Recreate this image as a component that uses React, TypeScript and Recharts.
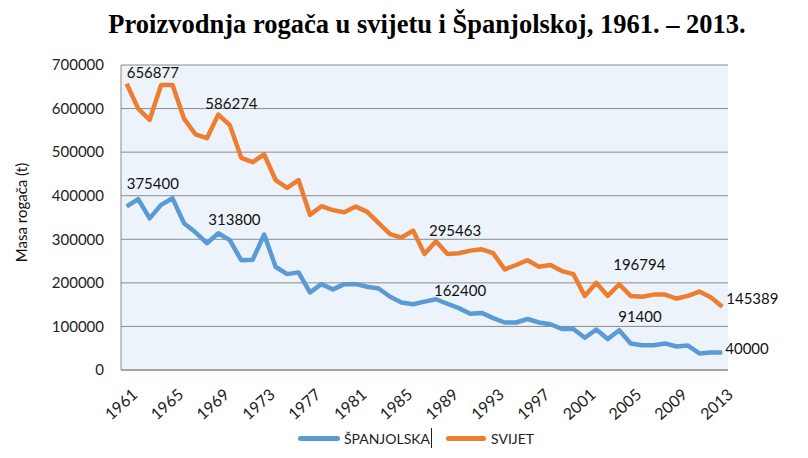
import React from 'react';
import { LineChart, Line, XAxis, YAxis, CartesianGrid, Label } from 'recharts';

const years = [
  1961, 1962, 1963, 1964, 1965, 1966, 1967, 1968, 1969, 1970,
  1971, 1972, 1973, 1974, 1975, 1976, 1977, 1978, 1979, 1980,
  1981, 1982, 1983, 1984, 1985, 1986, 1987, 1988, 1989, 1990,
  1991, 1992, 1993, 1994, 1995, 1996, 1997, 1998, 1999, 2000,
  2001, 2002, 2003, 2004, 2005, 2006, 2007, 2008, 2009, 2010,
  2011, 2012, 2013,
];

const spainValues = [
  375400, 392000, 348000, 379000, 394000, 337000, 316000, 291000, 313800, 298000,
  252000, 253000, 311000, 237000, 220000, 224000, 178000, 197000, 185000, 197000,
  197000, 191000, 187000, 168000, 155000, 151000, 157000, 162400, 152000, 142000,
  129000, 131000, 119000, 109000, 109000, 117000, 109000, 105000, 94000, 94000,
  74000, 93000, 71000, 91400, 61000, 57000, 57000, 61000, 54000, 56000,
  38000, 40000, 40000,
];

const worldValues = [
  656877, 600000, 574000, 654000, 654000, 577000, 541000, 532000, 586274, 562000,
  487000, 477000, 495000, 436000, 418000, 436000, 356000, 376000, 367000, 362000,
  375000, 363000, 337000, 312000, 304000, 320000, 266000, 295463, 266000, 268000,
  274000, 277000, 268000, 231000, 241000, 252000, 237000, 241000, 227000, 220000,
  170000, 200000, 170000, 196794, 170000, 168000, 173000, 173000, 164000, 170000,
  180000, 167000, 145389,
];

const xTicks = [1961, 1965, 1969, 1973, 1977, 1981, 1985, 1989, 1993, 1997, 2001, 2005, 2009, 2013];
const yTicks = [0, 100000, 200000, 300000, 400000, 500000, 600000, 700000];

const titleText = 'Proizvodnja rogača u svijetu i Španjolskoj, 1961. – 2013.';
const yAxisTitle = 'Masa rogača (t)';
const spainName = 'ŠPANJOLSKA';
const worldName = 'SVIJET';

const data = years.map((year, i) => ({ year, spain: spainValues[i], world: worldValues[i] }));

const FONT = 'Lato, "Open Sans", sans-serif';
const BLUE = '#5B9BD5';
const ORANGE = '#ED7D31';

// label placement offsets (style only), keyed by year
const worldLabelOffsets: Record<number, [number, number]> = {
  1961: [0, -11],
  1969: [-13, -11],
  1988: [-7, -11],
  2004: [-6, -20],
  2013: [4, -8],
};
const spainLabelOffsets: Record<number, [number, number]> = {
  1961: [0, -23],
  1969: [-10, -14],
  1988: [-2, -8.5],
  2004: [-1, -13.5],
  2013: [3, -4],
};

const makeDot = (offsets: Record<number, [number, number]>) => (p: any) => {
  const off = offsets[p.payload?.year];
  if (!off || p.cx == null || p.cy == null) return <g key={`d-${p.index}`} />;
  return (
    <g key={`d-${p.index}`}>
      <text
        x={p.cx + off[0]}
        y={p.cy + off[1]}
        dy="0.35em"
        textAnchor="start"
        fontSize={15}
        fontFamily={FONT}
        fill="#111"
      >
        {p.value}
      </text>
    </g>
  );
};

const XTick = (props: any) => {
  const { x, y, payload } = props;
  const ax = x + 12;
  const ay = y + 26;
  return (
    <text
      x={ax}
      y={ay}
      textAnchor="end"
      fontSize={16}
      fontFamily={FONT}
      fill="#222"
      transform={`rotate(-42, ${ax}, ${ay})`}
    >
      {payload.value}
    </text>
  );
};

export default function App() {
  return (
    <div style={{ position: 'absolute', left: 0, top: 0, width: 808, height: 458, background: '#fff' }}>
      <div
        style={{
          position: 'absolute',
          left: 0,
          top: 9,
          width: 854,
          textAlign: 'center',
          fontFamily: '"Liberation Serif", "Times New Roman", serif',
          fontWeight: 'bold',
          fontSize: 26.5,
          lineHeight: '30px',
          color: '#000',
          whiteSpace: 'nowrap',
        }}
      >
        {titleText}
      </div>
      <div style={{ position: 'absolute', left: 0, top: 0 }}>
        <LineChart width={808} height={458} data={data} margin={{ top: 65, right: 80, bottom: 58, left: 0 }}>
          <CartesianGrid vertical={false} stroke="#8c8c8c" fill="#EDF3FA" />
          <XAxis
            dataKey="year"
            type="number"
            domain={[1960.5, 2013.5]}
            ticks={xTicks}
            interval={0}
            height={30}
            tickSize={0}
            tickMargin={0}
            tickLine={false}
            axisLine={{ stroke: '#8c8c8c' }}
            tick={<XTick />}
          />
          <YAxis
            type="number"
            domain={[0, 700000]}
            ticks={yTicks}
            interval={0}
            width={121}
            tickSize={0}
            tickMargin={17}
            tickLine={false}
            axisLine={{ stroke: '#8c8c8c' }}
            tick={{ fontSize: 15, fontFamily: FONT, fill: '#222' }}
          >
            <Label
              content={(lp: any) => {
                const vb = lp.viewBox || { y: 65, height: 305 };
                const cx = 21;
                const cy = vb.y + vb.height / 2 - 5;
                return (
                  <text
                    x={cx}
                    y={cy}
                    textAnchor="middle"
                    dominantBaseline="central"
                    fontSize={15}
                    fontFamily={FONT}
                    fill="#111"
                    transform={`rotate(-90, ${cx}, ${cy})`}
                  >
                    {yAxisTitle}
                  </text>
                );
              }}
            />
          </YAxis>
          <Line
            type="linear"
            dataKey="spain"
            name={spainName}
            stroke={BLUE}
            strokeWidth={4.5}
            strokeLinejoin="round"
            dot={makeDot(spainLabelOffsets)}
            activeDot={false}
            isAnimationActive={false}
          />
          <Line
            type="linear"
            dataKey="world"
            name={worldName}
            stroke={ORANGE}
            strokeWidth={4.5}
            strokeLinejoin="round"
            dot={makeDot(worldLabelOffsets)}
            activeDot={false}
            isAnimationActive={false}
          />
        </LineChart>
      </div>
      <div
        style={{
          position: 'absolute',
          left: 12,
          top: 428,
          width: 808,
          height: 20,
          display: 'flex',
          justifyContent: 'center',
          alignItems: 'center',
          fontFamily: FONT,
          fontSize: 14,
          color: '#222',
        }}
      >
        <span style={{ display: 'inline-block', width: 42, height: 5, borderRadius: 3, background: BLUE, marginRight: 4 }} />
        <span>{spainName}</span>
        <span style={{ display: 'inline-block', width: 1, height: 20, background: '#222', marginLeft: 1, marginRight: 14 }} />
        <span style={{ display: 'inline-block', width: 40, height: 5, borderRadius: 3, background: ORANGE, marginRight: 5 }} />
        <span>{worldName}</span>
      </div>
    </div>
  );
}
